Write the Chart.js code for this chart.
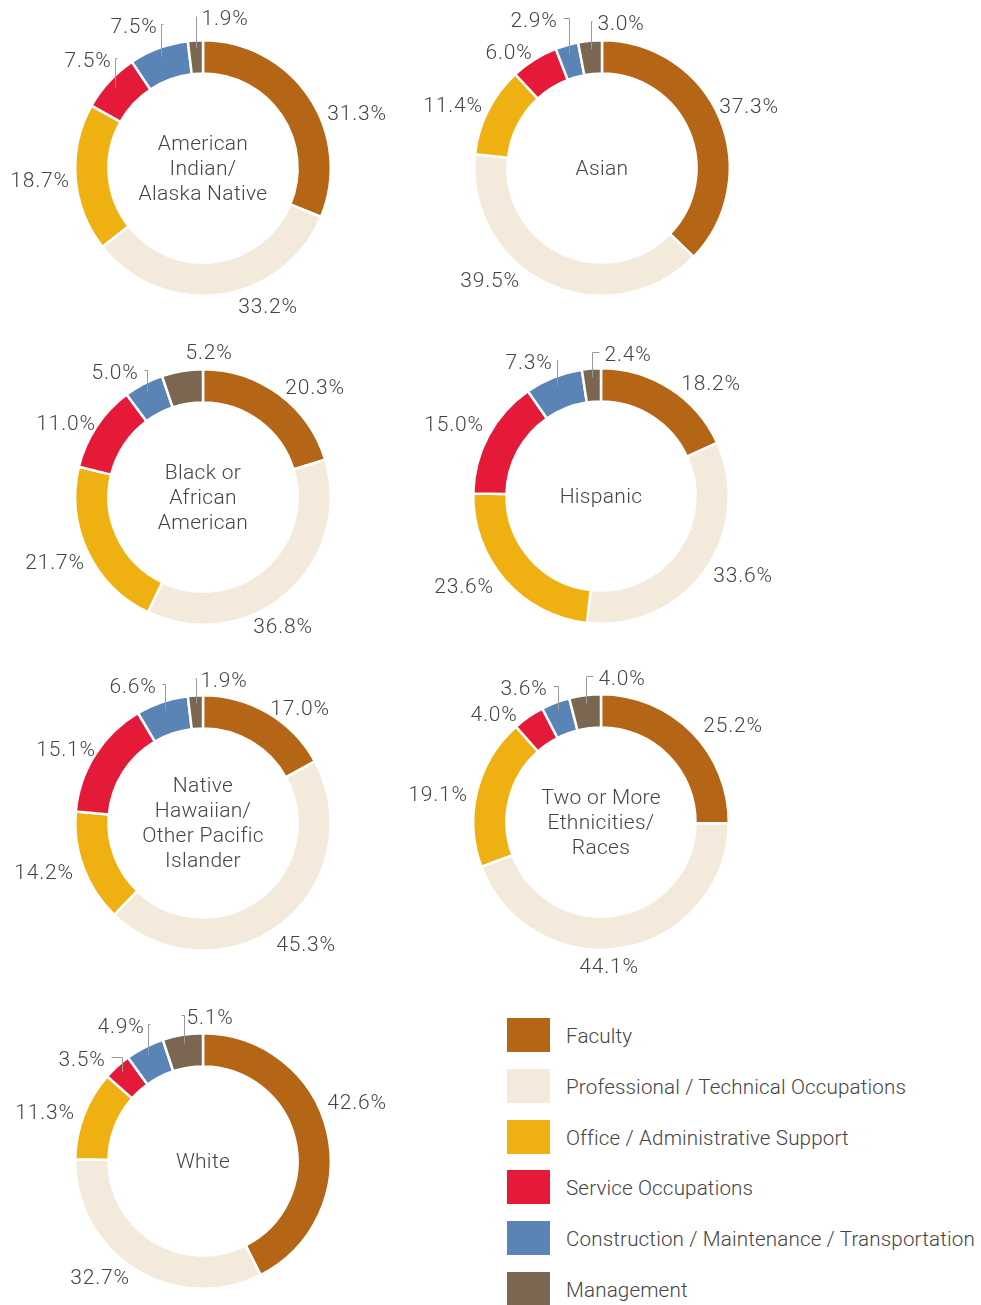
<!DOCTYPE html>
<html lang="en">
<head>
  <meta charset="UTF-8">
  <title>Employees by Race/Ethnicity and Occupation</title>
  <style>
    body {
      margin: 0;
      background: #fff;
      font-family: 'Roboto', sans-serif;
      width: 981px;
      height: 1305px;
      overflow: hidden;
      position: relative;
    }
    canvas.donut {
      position: absolute;
    }
    .legend {
      position: absolute;
      left: 507px;
      top: 1018px;
    }
    .legend .row {
      display: flex;
      align-items: center;
      height: 34px;
      margin-bottom: 16.8px;
    }
    .legend .swatch {
      width: 43px;
      height: 34px;
      margin-right: 16px;
    }
    .legend .text {
      font-size: 20.6px;
      font-weight: 300;
      color: #454545;
      white-space: nowrap;
      letter-spacing: 0.15px;
      position: relative;
      top: 1px;
    }
  </style>
</head>
<body>
  <div class="legend" id="legend"></div>

  <script src="https://cdn.jsdelivr.net/npm/chart.js"></script>
  <script>
    // categories (clockwise from 12 o'clock)
    const categories = [
      'Faculty',
      'Professional / Technical Occupations',
      'Office / Administrative Support',
      'Service Occupations',
      'Construction / Maintenance / Transportation',
      'Management'
    ];
    const colors = ['#B56516', '#F3EADC', '#EFB112', '#E41A38', '#5A84B6', '#7A6651'];

    // group titles (lines of centre text)
    const titles = [
      ['American', 'Indian/', 'Alaska Native'],
      ['Asian'],
      ['Black or', 'African', 'American'],
      ['Hispanic'],
      ['Native', 'Hawaiian/', 'Other Pacific', 'Islander'],
      ['Two or More', 'Ethnicities/', 'Races'],
      ['White']
    ];

    // percentages per group, same order as categories
    const americanIndian = [31.3, 33.2, 18.7, 7.5, 7.5, 1.9];
    const asian          = [37.3, 39.5, 11.4, 6.0, 2.9, 3.0];
    const black          = [20.3, 36.8, 21.7, 11.0, 5.0, 5.2];
    const hispanic       = [18.2, 33.6, 23.6, 15.0, 7.3, 2.4];
    const nativeHawaiian = [17.0, 45.3, 14.2, 15.1, 6.6, 1.9];
    const twoOrMore      = [25.2, 44.1, 19.1, 4.0, 3.6, 4.0];
    const white          = [42.6, 32.7, 11.3, 3.5, 4.9, 5.1];
    const groupValues = [americanIndian, asian, black, hispanic, nativeHawaiian, twoOrMore, white];

    // layout: donut centres on the page
    const centres = [[203, 168], [602, 168], [203, 497], [601, 496], [203, 823], [601, 822], [203, 1161]];

    // layout: label text centre, relative to donut centre
    const labelOffsets = [
      [[154, -55], [65, 138], [-163, 12], [-115, -108], [-69, -142], [22, -150]],
      [[147, -62], [-112, 112], [-149, -63], [-93, -116], [-68, -148], [19, -145]],
      [[112, -110], [80, 129], [-148, 65], [-137, -74], [-88, -125], [6, -145]],
      [[110, -113], [142, 79], [-137, 90], [-147, -72], [-72, -134], [27, -142]],
      [[97, -115], [103, 121], [-159, 49], [-137, -74], [-70, -137], [21, -143]],
      [[132, -97], [8, 144], [-163, -28], [-107, -108], [-77, -134], [21, -144]],
      [[154, -59], [-103, 116], [-158, -49], [-121, -102], [-82, -135], [7, -144]]
    ];
    // which labels get a small bracket leader line
    const leaders = [
      [0, 0, 0, 1, 1, 1],
      [0, 0, 0, 0, 1, 1],
      [0, 0, 0, 0, 1, 0],
      [0, 0, 0, 0, 1, 1],
      [0, 0, 0, 0, 1, 1],
      [0, 0, 0, 0, 1, 1],
      [0, 0, 0, 1, 1, 1]
    ];

    const CANVAS_W = 400, CANVAS_H = 330, AREA = 258;
    const TEXT_COLOR = '#454545';
    const LABEL_FONT = '300 21px Roboto';
    const TITLE_FONT = '300 21px Roboto';

    // legend
    const legendEl = document.getElementById('legend');
    categories.forEach((c, i) => {
      const row = document.createElement('div');
      row.className = 'row';
      row.innerHTML = `<div class="swatch" style="background:${colors[i]}"></div><div class="text">${c}</div>`;
      legendEl.appendChild(row);
    });

    // draws centre title, % labels and leader lines
    const donutLabels = {
      id: 'donutLabels',
      afterDatasetsDraw(chart, args, opts) {
        const ctx = chart.ctx;
        const arcs = chart.getDatasetMeta(0).data;
        const values = chart.data.datasets[0].data;
        if (!arcs.length) return;
        const {x: cx, y: cy, outerRadius} = arcs[0].getProps(['x', 'y', 'outerRadius'], true);

        ctx.save();
        ctx.fillStyle = TEXT_COLOR;
        ctx.textAlign = 'center';
        ctx.textBaseline = 'middle';

        // centre title
        ctx.font = TITLE_FONT;
        ctx.letterSpacing = '0.3px';
        const lines = opts.title;
        const lh = 25;
        lines.forEach((line, i) => {
          ctx.fillText(line, cx, cy + 1.5 + (i - (lines.length - 1) / 2) * lh);
        });

        ctx.font = LABEL_FONT;
        ctx.letterSpacing = '0.8px';
        arcs.forEach((arc, i) => {
          const p = arc.getProps(['startAngle', 'endAngle'], true);
          const text = values[i].toFixed(1) + '%';
          const [dx, dy] = opts.offsets[i];
          const tx = cx + dx, ty = cy + dy;
          ctx.fillStyle = TEXT_COLOR;
          ctx.fillText(text, tx, ty + 2);

          if (opts.leaders[i]) {
            const mid = (p.startAngle + p.endAngle) / 2;
            const r = outerRadius - 8;
            const px = cx + Math.cos(mid) * r;
            const py = cy + Math.sin(mid) * r;
            const w = ctx.measureText(text).width;
            const ly = ty - 2;
            const sx = px > tx ? tx + w / 2 + 5 : tx - w / 2 - 5;
            ctx.strokeStyle = '#9a9a9a';
            ctx.lineWidth = 1;
            ctx.beginPath();
            ctx.moveTo(Math.round(sx) + 0.5, Math.round(ly) + 0.5);
            ctx.lineTo(Math.round(px) + 0.5, Math.round(ly) + 0.5);
            ctx.lineTo(Math.round(px) + 0.5, Math.round(py) + 0.5);
            ctx.stroke();
          }
        });
        ctx.restore();
      }
    };

    function makeChart(g) {
      const canvas = document.createElement('canvas');
      canvas.className = 'donut';
      canvas.width = CANVAS_W;
      canvas.height = CANVAS_H;
      canvas.style.width = CANVAS_W + 'px';
      canvas.style.height = CANVAS_H + 'px';
      canvas.style.left = (centres[g][0] - CANVAS_W / 2) + 'px';
      canvas.style.top = (centres[g][1] - CANVAS_H / 2) + 'px';
      document.body.appendChild(canvas);

      const padX = (CANVAS_W - AREA) / 2, padY = (CANVAS_H - AREA) / 2;
      new Chart(canvas.getContext('2d'), {
        type: 'doughnut',
        data: {
          labels: categories,
          datasets: [{
            data: groupValues[g],
            backgroundColor: colors,
            borderColor: '#ffffff',
            borderWidth: 2.5
          }]
        },
        options: {
          responsive: false,
          animation: false,
          cutout: '74%',
          layout: { padding: { left: padX, right: padX, top: padY, bottom: padY } },
          plugins: {
            legend: { display: false },
            tooltip: { enabled: false },
            donutLabels: {
              title: titles[g],
              offsets: labelOffsets[g],
              leaders: leaders[g]
            }
          }
        },
        plugins: [donutLabels]
      });
    }

    const start = () => groupValues.forEach((v, g) => makeChart(g));
    if (document.fonts && document.fonts.load) {
      document.fonts.load(LABEL_FONT).then(start, start);
    } else {
      start();
    }
  </script>
</body>
</html>
